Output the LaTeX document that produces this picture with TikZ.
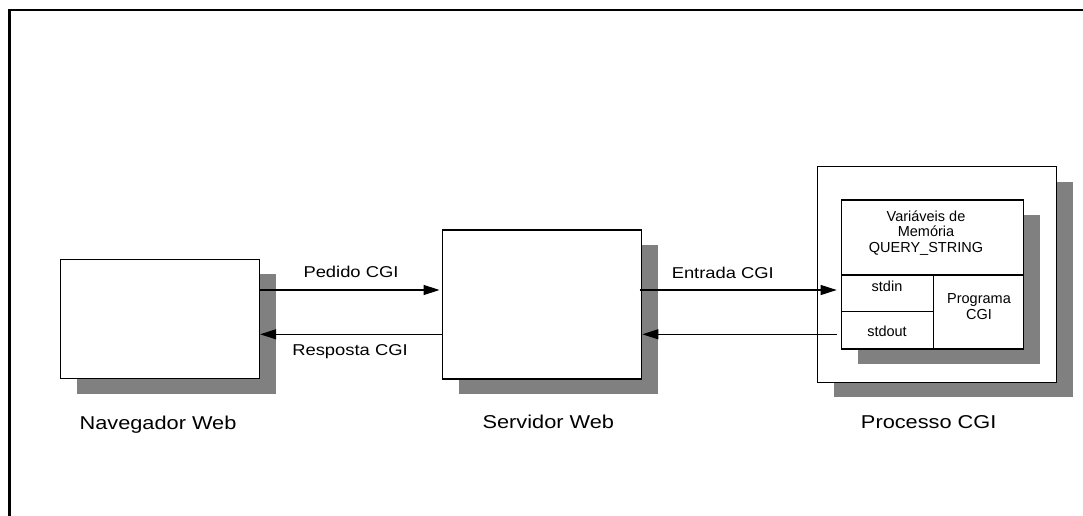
\documentclass[tikz,border=0pt]{standalone}
\usepackage{fontspec}
\setmainfont{Liberation Sans}
\newfontfamily\widefont[FakeStretch=1.17]{Liberation Sans}
\usetikzlibrary{arrows.meta,shadows}

\tikzset{
  box/.style={draw=black, line width=1.3pt, fill=white, inner sep=0pt,
    drop shadow={shadow xshift=16.5pt, shadow yshift=-15pt, fill=black!50, opacity=1}},
  arr/.style={line width=1.2pt, -{Triangle[length=16pt,width=10pt]}},
  caption/.style={font=\widefont\fontsize{18.6}{22}\selectfont, anchor=base, inner sep=0pt},
  flowlabel/.style={font=\widefont\fontsize{15.7}{18}\selectfont, anchor=base, inner sep=0pt},
  innertext/.style={font=\fontsize{14.5}{15.5}\selectfont, anchor=base, inner sep=0pt, align=center},
  frame/.style={line width=2.5pt}
}

\begin{document}
\begin{tikzpicture}[x=1pt, y=-1pt]
\useasboundingbox (0,0) rectangle (1083,516);

% open frame: top and left edges
\coordinate (fTop) at (1083,10);
\coordinate (fCorner) at (9.5,10);
\coordinate (fBottom) at (9.5,516);
\draw[frame] (fBottom) -- (fCorner) -- (fTop);

% browser
\node[box, minimum width=199pt, minimum height=119.4pt] (nav) at (160,319) {};
% web server
\node[box, minimum width=199pt, minimum height=149pt] (srv) at (542.2,304.5) {};
% CGI process: outer frame and program box
\node[box, minimum width=239.4pt, minimum height=215.6pt] (proc) at (937,274.5) {};
\node[box, minimum width=181.6pt, minimum height=149pt] (cgi) at (932.5,274.5) {};

% subdivisions of the program box
\coordinate (hsplit) at (0,275);
\coordinate (vsplit) at (933.3,0);
\coordinate (iosplit) at (0,311.7);
\draw[line width=1.3pt] (cgi.west |- hsplit) -- (cgi.east |- hsplit);
\draw[line width=1.3pt] (vsplit |- hsplit) -- (vsplit |- cgi.south);
\draw[line width=1.3pt] (cgi.west |- iosplit) -- (vsplit |- iosplit);

% texts in the program box (base anchor = baseline of the last line)
\node[innertext] (vars) at (926,252) {Variáveis de\\Memória\\QUERY\_STRING};
\node[innertext] (stdin) at (887,291.7) {stdin};
\node[innertext] (stdout) at (887,336.7) {stdout};
\node[innertext] (prog) at (979,319.3) {Programa\\CGI};

% flows
\coordinate (rowA) at (0,290);
\coordinate (rowB) at (0,334.3);
\draw[arr, shorten >=2.5pt] (nav.east |- rowA) -- (srv.west |- rowA);
\draw[arr] (srv.west |- rowB) -- (nav.east |- rowB);
\draw[arr, shorten <=-2.7pt, shorten >=4.4pt] (srv.east |- rowA) -- (cgi.west |- rowA);
\draw[arr, shorten <=3.7pt] (cgi.west |- rowB) -- (srv.east |- rowB);

\node[flowlabel] (lPedido) at (351,277.7) {Pedido CGI};
\node[flowlabel] (lResposta) at (350,355) {Resposta CGI};
\node[flowlabel] (lEntrada) at (722.8,278.3) {Entrada CGI};

% captions
\node[caption] (cNav) at (158,429) {Navegador Web};
\node[caption] (cSrv) at (548.3,428.3) {Servidor Web};
\node[caption] (cProc) at (928.7,428.3) {Processo CGI};
\end{tikzpicture}
\end{document}
